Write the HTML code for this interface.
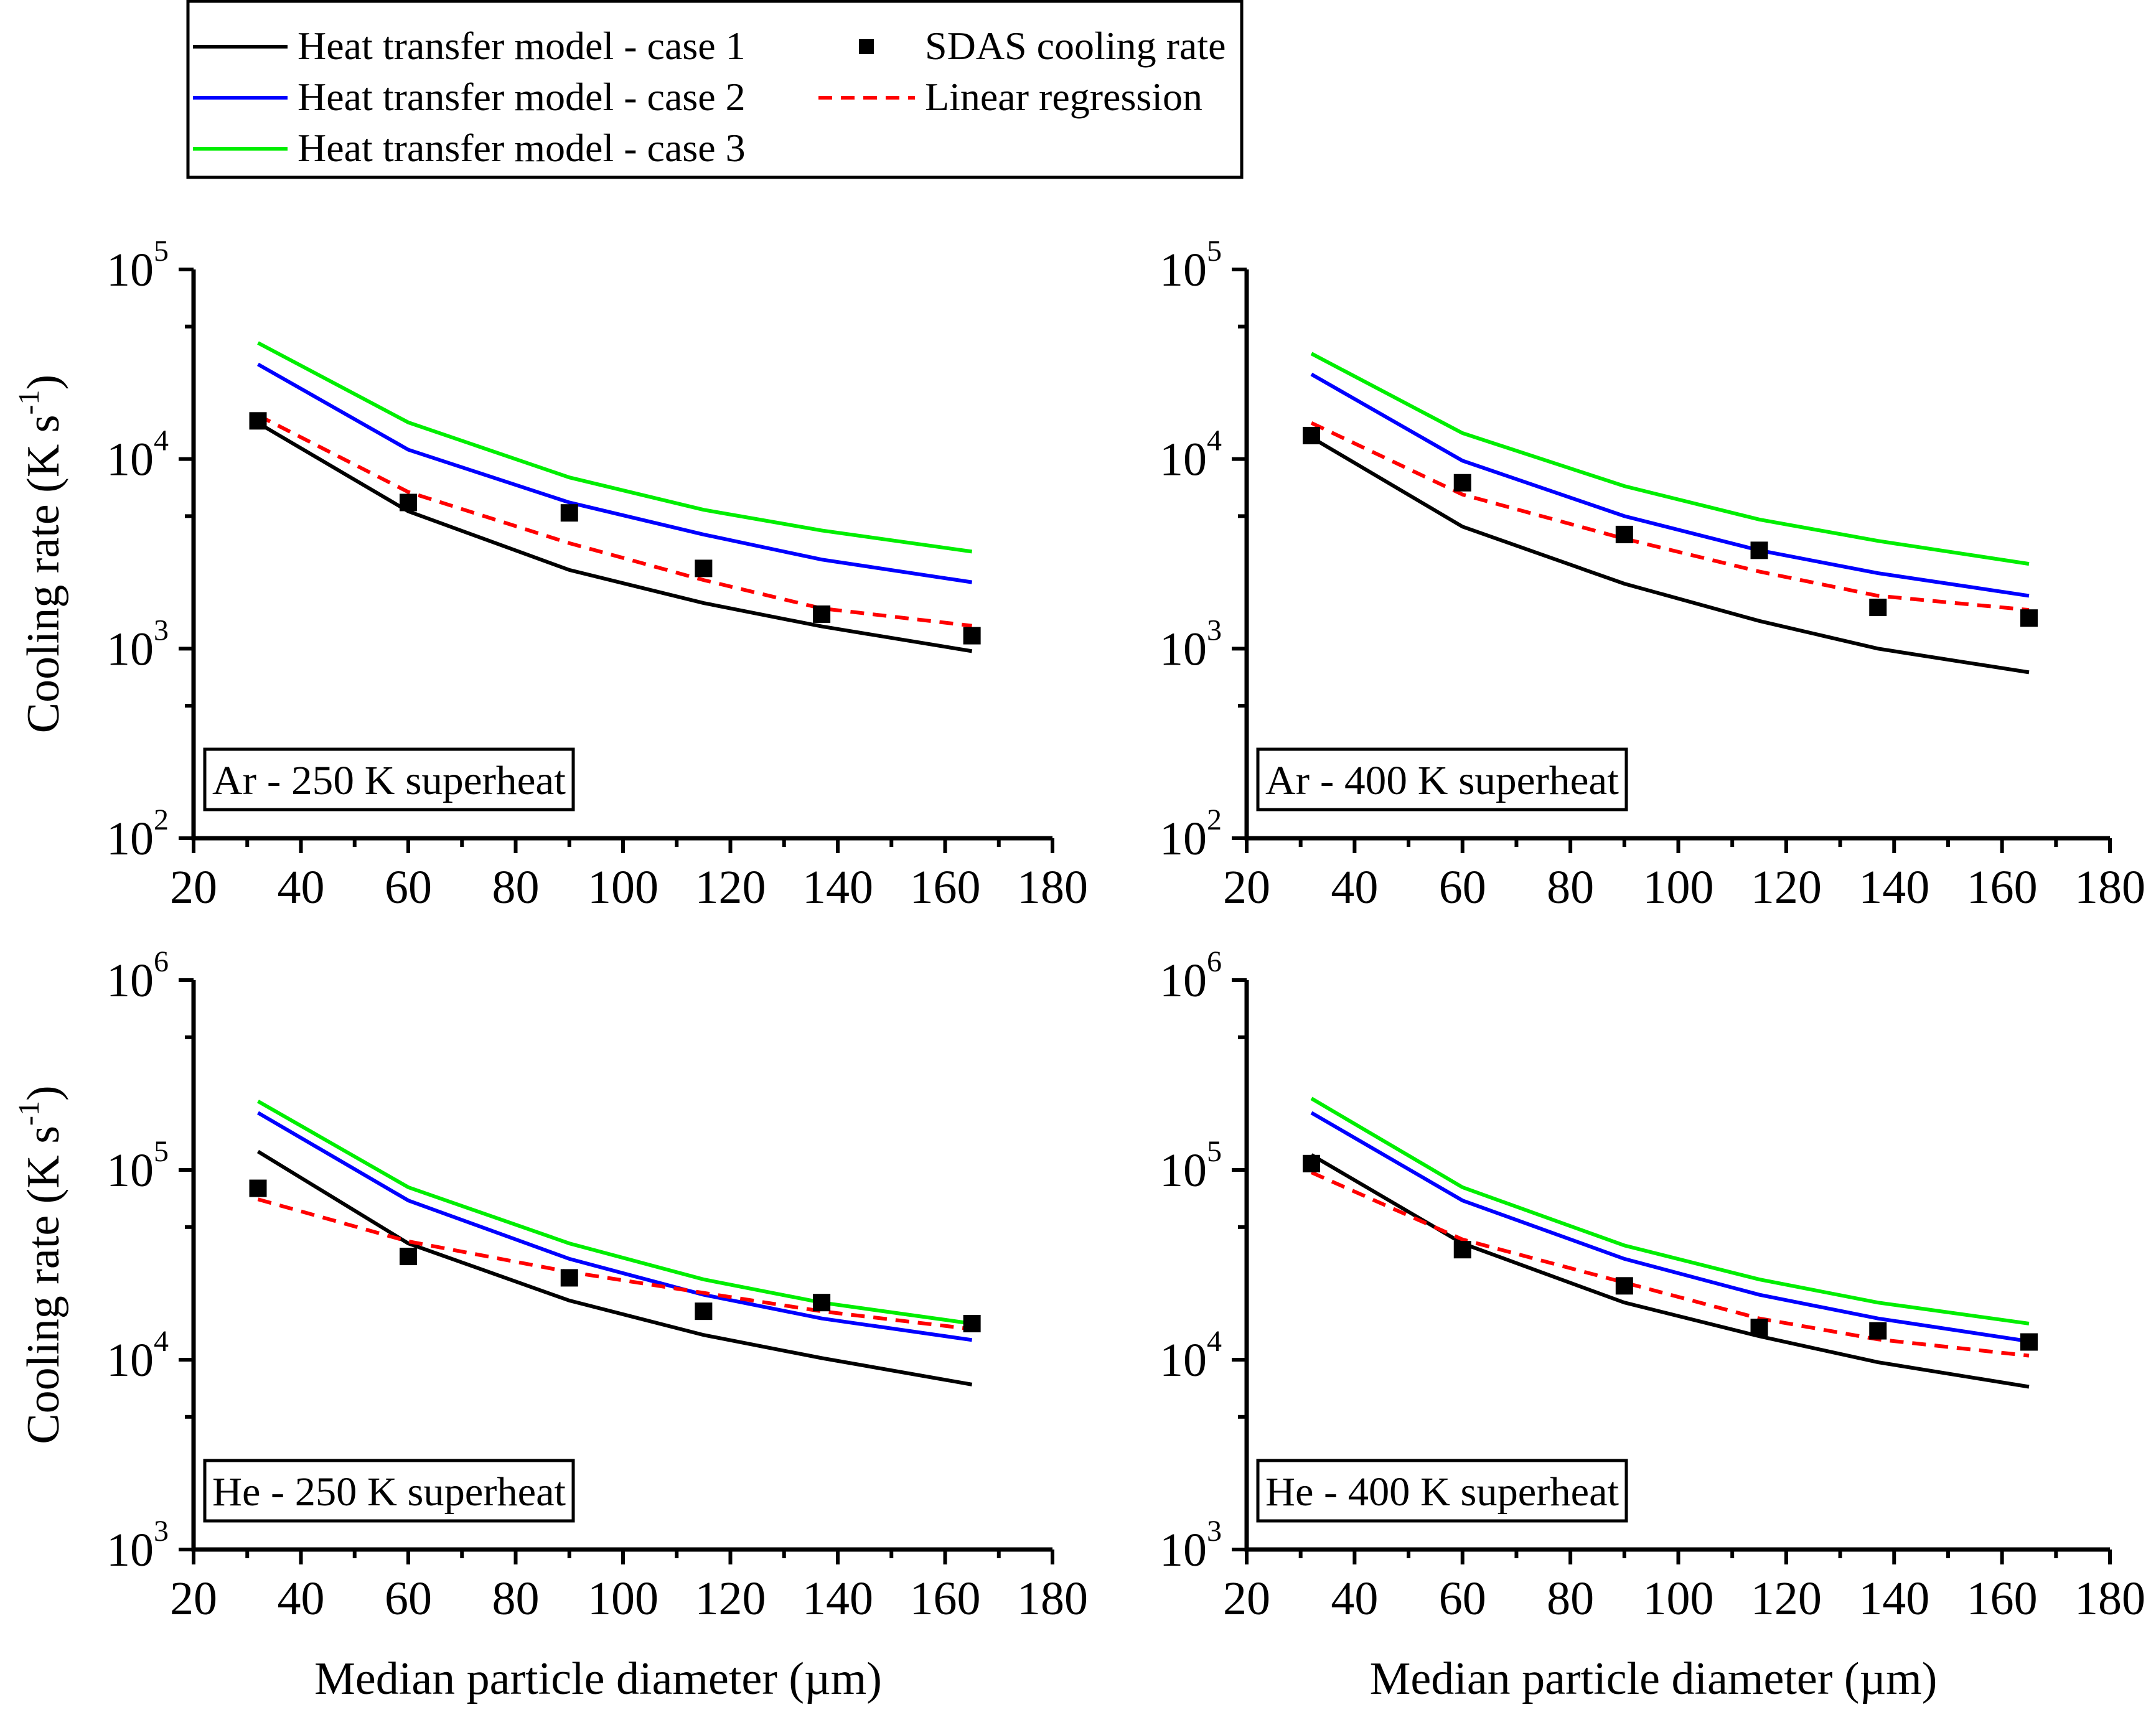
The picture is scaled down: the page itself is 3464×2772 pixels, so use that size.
<!DOCTYPE html>
<html><head><meta charset="utf-8"><style>
html,body{margin:0;padding:0;background:#fff;}
svg{display:block;font-family:"Liberation Serif",serif;}
</style></head><body>
<svg id="chart" width="3464" height="2772" viewBox="0 0 3464 2772" xmlns="http://www.w3.org/2000/svg">
<g>
<rect x="302" y="2" width="1693" height="283" fill="#fff" stroke="#000" stroke-width="5"/>
<line x1="310" y1="75" x2="462" y2="75" stroke="#000" stroke-width="6"/>
<text x="478" y="95" font-size="64">Heat transfer model - case 1</text>
<line x1="310" y1="157" x2="462" y2="157" stroke="#0000ff" stroke-width="6"/>
<text x="478" y="177" font-size="64">Heat transfer model - case 2</text>
<line x1="310" y1="239" x2="462" y2="239" stroke="#00ee00" stroke-width="6"/>
<text x="478" y="259" font-size="64">Heat transfer model - case 3</text>
<rect x="1380" y="63" width="24" height="24" fill="#000"/>
<text x="1486" y="95" font-size="64">SDAS cooling rate</text>
<line x1="1315" y1="157" x2="1470" y2="157" stroke="#ff0000" stroke-width="6" stroke-dasharray="22,14"/>
<text x="1486" y="177" font-size="64">Linear regression</text>
</g>
<g id="panels"></g>
</svg>
<script>
const xs = [32, 60, 90, 115, 137, 165];
const xTicks = [20, 40, 60, 80, 100, 120, 140, 160, 180];
const ar250Case1 = [15500, 5300, 2600, 1740, 1310, 970];
const ar250Case2 = [31600, 11200, 5900, 4000, 2950, 2240];
const ar250Case3 = [41000, 15600, 8000, 5400, 4200, 3250];
const ar250Reg = [17000, 6700, 3600, 2300, 1630, 1320];
const ar250Sdas = [15900, 5900, 5200, 2650, 1520, 1170];
const ar400Case1 = [13000, 4400, 2200, 1400, 1000, 750];
const ar400Case2 = [28000, 9800, 5000, 3300, 2500, 1900];
const ar400Case3 = [36000, 13700, 7200, 4800, 3700, 2800];
const ar400Reg = [15500, 6500, 3800, 2550, 1900, 1600];
const ar400Sdas = [13300, 7500, 4000, 3300, 1650, 1450];
const he250Case1 = [125000, 41000, 20500, 13500, 10200, 7400];
const he250Case2 = [200000, 69000, 34000, 22000, 16500, 12700];
const he250Case3 = [230000, 81000, 41000, 26500, 20000, 15500];
const he250Reg = [70000, 42000, 29000, 22500, 18000, 14500];
const he250Sdas = [80000, 35000, 27000, 18000, 20000, 15500];
const he400Case1 = [120000, 41000, 20000, 13300, 9700, 7200];
const he400Case2 = [200000, 69000, 34000, 22000, 16500, 12500];
const he400Case3 = [238000, 81000, 40000, 26500, 20000, 15500];
const he400Reg = [97000, 43000, 25500, 16500, 12800, 10500];
const he400Sdas = [108000, 38000, 24500, 14800, 14200, 12400];

const NS = "http://www.w3.org/2000/svg";
const root = document.getElementById('panels');
function mk(tag, attrs, parent){const e=document.createElementNS(NS,tag);for(const k in attrs)e.setAttribute(k,attrs[k]);parent.appendChild(e);return e;}

const panels = [
 {name:'ar-250', label:'Ar - 250 K superheat', x0:311,x1:1691,y0:433,y1:1347,dmin:2,dmax:5,c1:ar250Case1,c2:ar250Case2,c3:ar250Case3,reg:ar250Reg,sd:ar250Sdas,ytitle:true,xtitle:false},
 {name:'ar-400', label:'Ar - 400 K superheat', x0:2003,x1:3390,y0:433,y1:1347,dmin:2,dmax:5,c1:ar400Case1,c2:ar400Case2,c3:ar400Case3,reg:ar400Reg,sd:ar400Sdas,ytitle:false,xtitle:false},
 {name:'he-250', label:'He - 250 K superheat', x0:311,x1:1691,y0:1575,y1:2490,dmin:3,dmax:6,c1:he250Case1,c2:he250Case2,c3:he250Case3,reg:he250Reg,sd:he250Sdas,ytitle:true,xtitle:true},
 {name:'he-400', label:'He - 400 K superheat', x0:2003,x1:3390,y0:1575,y1:2490,dmin:3,dmax:6,c1:he400Case1,c2:he400Case2,c3:he400Case3,reg:he400Reg,sd:he400Sdas,ytitle:false,xtitle:true},
];

panels.forEach(p=>{
 const g = mk('g',{},root);
 
 
 const X = v => p.x0 + (v-20)/160*(p.x1-p.x0);
 const Y = v => p.y1 - (Math.log10(v)-p.dmin)/(p.dmax-p.dmin)*(p.y1-p.y0);
 const ax = mk('path',{d:`M${p.x0},${p.y0} L${p.x0},${p.y1} L${p.x1},${p.y1}`,fill:'none',stroke:'#000','stroke-width':7},g);
 
 
 xTicks.forEach((t,i)=>{
  const x=X(t);
  mk('line',{x1:x,y1:p.y1,x2:x,y2:p.y1+24,stroke:'#000','stroke-width':6},g);
  if(i<xTicks.length-1){const xm=X(t+10);mk('line',{x1:xm,y1:p.y1,x2:xm,y2:p.y1+14,stroke:'#000','stroke-width':6},g);}
  const tl=mk('text',{x:x,y:p.y1+104,'font-size':76,'text-anchor':'middle'},g);
  tl.textContent=t;
  
  
 });
 for(let d=p.dmin; d<=p.dmax; d++){
  const y=Y(Math.pow(10,d));
  mk('line',{x1:p.x0-24,y1:y,x2:p.x0,y2:y,stroke:'#000','stroke-width':6},g);
  if(d<p.dmax){const ym=Y(5*Math.pow(10,d));mk('line',{x1:p.x0-14,y1:ym,x2:p.x0,y2:ym,stroke:'#000','stroke-width':6},g);}
  const tl=mk('text',{x:p.x0-40,y:y+26,'font-size':76,'text-anchor':'end'},g);
  tl.textContent='10';
  const sp=mk('tspan',{dy:-40,'font-size':48},tl);
  sp.textContent=d;
  
  
 }
 const series=[[p.c3,'#00ee00','case-3'],[p.c2,'#0000ff','case-2'],[p.c1,'#000','case-1']];
 series.forEach(s=>{
  const l=mk('polyline',{points:xs.map((x,i)=>X(x)+','+Y(s[0][i])).join(' '),fill:'none',stroke:s[1],'stroke-width':6},g);
  
  
 });
 const r=mk('polyline',{points:xs.map((x,i)=>X(x)+','+Y(p.reg[i])).join(' '),fill:'none',stroke:'#ff0000','stroke-width':6,'stroke-dasharray':'22,14'},g);
 
 
 xs.forEach((x,i)=>{
  const q=mk('rect',{x:X(x)-14,y:Y(p.sd[i])-14,width:28,height:28,fill:'#000'},g);
  
  
 });
 const bx=p.x0+18, by=p.y1-143;
 const b=mk('rect',{x:bx,y:by,width:592,height:97,fill:'#fff',stroke:'#000','stroke-width':5},g);
 
 
 const bt=mk('text',{x:bx+12,y:by+72,'font-size':66,textLength:568,lengthAdjust:'spacingAndGlyphs'},g);
 bt.textContent=p.label;
 
 
 if(p.ytitle){
  const cy=(p.y0+p.y1)/2;
  const yt=mk('text',{x:0,y:0,'font-size':74,'text-anchor':'middle',transform:`translate(94,${cy}) rotate(-90)`},g);
  yt.textContent='Cooling rate (K s';
  const s1=mk('tspan',{dy:-32,'font-size':48},yt); s1.textContent='-1';
  const s2=mk('tspan',{dy:32},yt); s2.textContent=')';
  
  
 }
 if(p.xtitle){
  const xt=mk('text',{x:(p.x0+p.x1)/2-40,y:2722,'font-size':74,'text-anchor':'middle'},g);
  xt.textContent='Median particle diameter (µm)';
  
  
 }
});
</script>
</body></html>
